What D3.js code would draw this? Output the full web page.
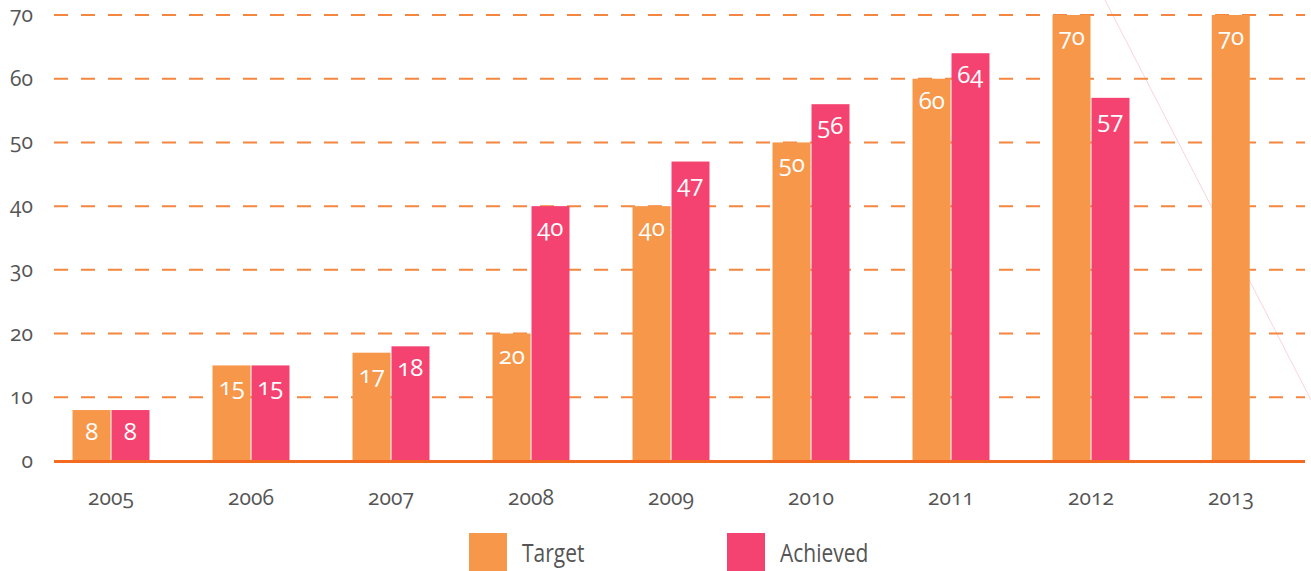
<!DOCTYPE html>
<html>
<head>
<meta charset="utf-8">
<script src="https://cdn.jsdelivr.net/npm/d3@7"></script>
<style>
  html, body { margin: 0; padding: 0; background: #fff; }
  svg { display: block; }
  .num { font-family: "Open Sans", "Noto Sans", sans-serif; font-variant-numeric: oldstyle-nums; font-feature-settings: "onum" 1; }
  .leg { font-family: "Open Sans", "Noto Sans", sans-serif; }
</style>
</head>
<body>
<div id="chart"></div>
<script>
// chart data
const years = ["2005", "2006", "2007", "2008", "2009", "2010", "2011", "2012", "2013"];
const target = [8, 15, 17, 20, 40, 50, 60, 70, 70];
const achieved = [8, 15, 18, 40, 47, 56, 64, 57, null];
const yTicks = [0, 10, 20, 30, 40, 50, 60, 70];
const seriesNames = ["Target", "Achieved"];
const colors = ["#F7974A", "#F54371"];

const width = 1311, height = 571;
const svg = d3.select("#chart").append("svg")
    .attr("width", width)
    .attr("height", height);

// faint diagonal decoration in the background
svg.append("line")
    .attr("x1", 1105).attr("y1", 0)
    .attr("x2", 1311).attr("y2", 400)
    .attr("stroke", "#f9d3de")
    .attr("stroke-width", 1);

// scales
let x = d3.scaleBand()
    .domain(years)
    .range([41, 1301])
    .paddingInner(0.45)
    .paddingOuter(0.225);

let y = d3.scaleLinear()
    .domain([0, 70])
    .range([461, 15]);

let barW = x.bandwidth() / 2;

// grid lines
svg.append("g")
    .selectAll("line")
    .data(yTicks.filter(d => d > 0))
    .join("line")
    .attr("x1", 54)
    .attr("x2", 1305)
    .attr("y1", d => y(d))
    .attr("y2", d => y(d))
    .attr("stroke", "#F4863F")
    .attr("stroke-width", 2)
    .attr("stroke-dasharray", "14 13");

// y tick labels
svg.append("g")
    .selectAll("text")
    .data(yTicks)
    .join("text")
    .attr("class", "num")
    .attr("x", 33)
    .attr("y", d => y(d) + 7)
    .attr("text-anchor", "end")
    .attr("font-size", 21)
    .attr("fill", "#555")
    .text(d => d);

// bars
let rows = years.map((yr, i) => ({year: yr, vals: [target[i], achieved[i]]}));

let groups = svg.append("g")
    .selectAll("g")
    .data(rows)
    .join("g")
    .attr("transform", d => `translate(${x(d.year)},0)`);

groups.each(function (d) {
    let g = d3.select(this);
    let vals = d.vals.map((v, k) => ({v: v, k: k})).filter(e => e.v != null);
    let offset = vals.length === 1 ? barW / 2 : 0;
    vals.forEach((e, j) => {
        let bx = offset + j * barW;
        g.append("rect")
            .attr("x", bx + (j > 0 ? 0.5 : 0))
            .attr("y", y(e.v))
            .attr("width", barW - 0.5)
            .attr("height", y(0) - y(e.v))
            .attr("fill", colors[e.k]);
        g.append("text")
            .attr("class", "num")
            .attr("x", bx + barW / 2)
            .attr("y", y(e.v) + 30)
            .attr("text-anchor", "middle")
            .attr("font-size", 24)
            .attr("fill", "#fff")
            .text(e.v);
    });
});

// base line
svg.append("line")
    .attr("x1", 54).attr("x2", 1305)
    .attr("y1", y(0) + 0.5).attr("y2", y(0) + 0.5)
    .attr("stroke", "#F26B21")
    .attr("stroke-width", 3);

// x labels
svg.append("g")
    .selectAll("text")
    .data(years)
    .join("text")
    .attr("class", "num")
    .attr("x", d => x(d) + x.bandwidth() / 2)
    .attr("y", 505)
    .attr("text-anchor", "middle")
    .attr("font-size", 21)
    .attr("fill", "#555")
    .text(d => d);

// legend
let legend = svg.append("g")
    .selectAll("g")
    .data(seriesNames)
    .join("g")
    .attr("transform", (d, i) => `translate(${469 + i * 258},533)`);

legend.append("rect")
    .attr("width", 38)
    .attr("height", 38)
    .attr("fill", (d, i) => colors[i]);

// narrow look of the legend font
legend.append("text")
    .attr("class", "leg")
    .attr("transform", "translate(53,29) scale(0.84,1)")
    .attr("font-size", 25)
    .attr("fill", "#555")
    .text(d => d);
</script>
</body>
</html>
